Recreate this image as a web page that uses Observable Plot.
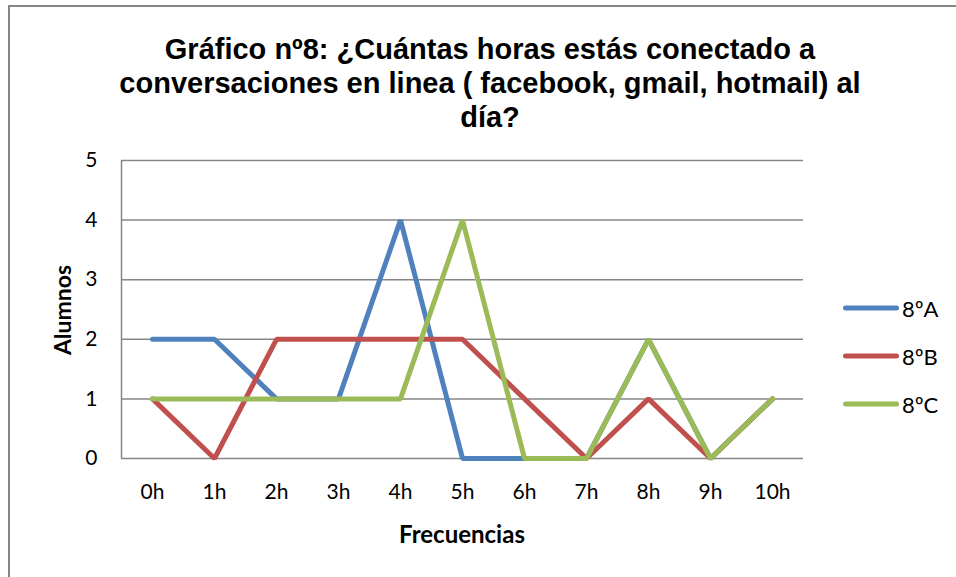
<!DOCTYPE html>
<html>
<head>
<meta charset="utf-8">
<script src="https://cdn.jsdelivr.net/npm/d3@7"></script>
<script src="https://cdn.jsdelivr.net/npm/@observablehq/plot@0.6"></script>
<style>
  html, body { margin: 0; padding: 0; background: #fff; }
  #wrap { position: relative; width: 956px; height: 577px; overflow: hidden; background: #fff; }
  #wrap svg { position: absolute; left: 0; top: 0; }
  .border { position: absolute; left: 8px; top: 5px; width: 2000px; height: 2000px;
            border-left: 2px solid #868686; border-top: 2px solid #868686; }
  .title { position: absolute; left: 90px; width: 800px; top: 32px; text-align: center;
           font-family: "Liberation Sans", Arial, sans-serif; font-weight: bold; font-size: 29px;
           line-height: 34px; color: #000; }
  .xlabel { position: absolute; left: 312px; width: 300px; top: 533px; transform: translateY(-50%); text-align: center;
            font-family: Lato, sans-serif; font-weight: bold; font-size: 24px; color: #000; }
  .ylabel { position: absolute; left: 62px; top: 310px; transform: translate(-50%, -50%) rotate(-90deg);
            font-family: Lato, sans-serif; font-weight: bold; font-size: 23px; color: #000; white-space: nowrap; }
  .legend { position: absolute; left: 843px; top: 0; font-family: Lato, sans-serif; font-size: 22px; color: #000; }
  .legend .item { position: absolute; left: 0; display: flex; align-items: center; white-space: nowrap; transform: translateY(-50%); }
  .legend .sw { width: 56px; height: 5px; border-radius: 3px; margin-right: 3px; }
</style>
</head>
<body>
<div id="wrap"></div>
<script>
const categories = ["0h", "1h", "2h", "3h", "4h", "5h", "6h", "7h", "8h", "9h", "10h"];
const seriesNames = ["8ºA", "8ºB", "8ºC"];
const serieA = [2, 2, 1, 1, 4, 0, 0, 0, 2, 0, 1];
const serieB = [1, 0, 2, 2, 2, 2, 1, 0, 1, 0, 1];
const serieC = [1, 1, 1, 1, 1, 4, 0, 0, 2, 0, 1];
const yTicks = [0, 1, 2, 3, 4, 5];
const colors = ["#4F81BD", "#C0504D", "#9BBB59"];
const titleLines = ["Gráfico nº8: ¿Cuántas horas estás conectado a",
                    "conversaciones en linea ( facebook, gmail, hotmail) al",
                    "día?"];
const xTitle = "Frecuencias";
const yTitle = "Alumnos";

const allSeries = [serieA, serieB, serieC];
const rows = [];
allSeries.forEach((vals, s) => vals.forEach((v, i) => rows.push({serie: seriesNames[s], i, v})));

const chart = Plot.plot({
  width: 956, height: 577,
  marginLeft: 121, marginRight: 153, marginTop: 160, marginBottom: 119,
  style: {fontFamily: "Lato, sans-serif", fontSize: "21px", color: "#000", background: "transparent"},
  x: {domain: [-0.5, categories.length - 0.5]},
  y: {domain: [0, 5]},
  color: {domain: seriesNames, range: colors},
  marks: [
    Plot.ruleY(yTicks, {stroke: "#868686", strokeWidth: 1.5}),
    Plot.ruleX([-0.5], {stroke: "#868686", strokeWidth: 1.5}),
    Plot.axisY({ticks: yTicks, tickFormat: d => String(d), tickSize: 0, tickPadding: 24, label: null, fontSize: 21}),
    Plot.axisX({ticks: categories.map((_, i) => i), tickFormat: i => categories[i],
                tickSize: 0, tickPadding: 26, label: null, fontSize: 21}),
    Plot.line(rows, {x: "i", y: "v", z: "serie", stroke: "serie", strokeWidth: 5,
                     strokeLinecap: "round", strokeLinejoin: "miter"})
  ]
});

const wrap = document.getElementById("wrap");
const border = document.createElement("div");
border.className = "border";
wrap.appendChild(border);
wrap.appendChild(chart);

const t = document.createElement("div");
t.className = "title";
t.innerHTML = titleLines.join("<br>");
wrap.appendChild(t);

const xl = document.createElement("div");
xl.className = "xlabel";
xl.textContent = xTitle;
wrap.appendChild(xl);

const yl = document.createElement("div");
yl.className = "ylabel";
yl.textContent = yTitle;
wrap.appendChild(yl);

const lg = document.createElement("div");
lg.className = "legend";
const legendY = [308, 356, 404];
seriesNames.forEach((n, k) => {
  const it = document.createElement("div");
  it.className = "item";
  it.style.top = legendY[k] + "px";
  const sw = document.createElement("div");
  sw.className = "sw";
  sw.style.background = colors[k];
  const tx = document.createElement("span");
  tx.textContent = n;
  it.appendChild(sw);
  it.appendChild(tx);
  lg.appendChild(it);
});
wrap.appendChild(lg);
</script>
</body>
</html>
